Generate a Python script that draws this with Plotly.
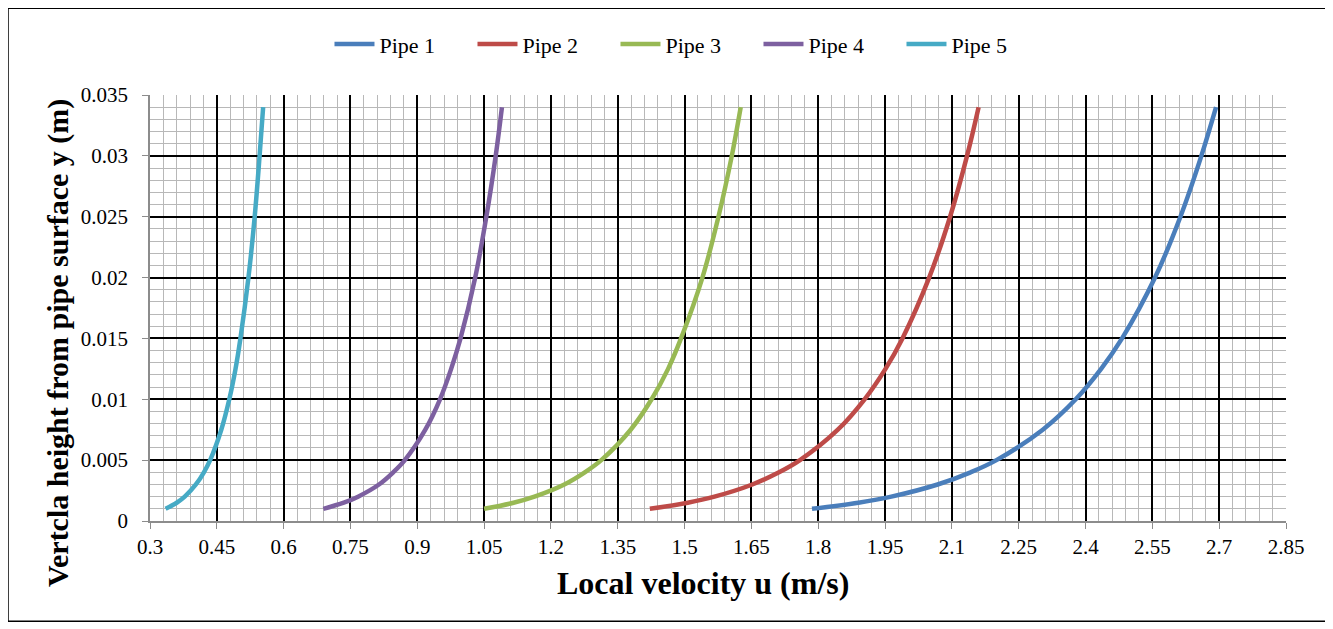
import plotly.graph_objects as go

heights = [0.001, 0.0015, 0.002, 0.003, 0.004, 0.005, 0.0075, 0.010,
           0.0125, 0.015, 0.020, 0.025, 0.030, 0.034]

# Local velocity u (m/s) at those heights
pipe1_u = [1.786, 1.890, 1.964, 2.068, 2.142, 2.200, 2.304, 2.378, 2.435, 2.482, 2.556, 2.613, 2.660, 2.693]
pipe2_u = [1.422, 1.507, 1.567, 1.652, 1.712, 1.759, 1.844, 1.904, 1.951, 1.989, 2.049, 2.096, 2.134, 2.160]
pipe3_u = [1.050, 1.116, 1.163, 1.230, 1.276, 1.313, 1.379, 1.426, 1.463, 1.492, 1.540, 1.576, 1.606, 1.626]
pipe4_u = [0.689, 0.735, 0.767, 0.814, 0.846, 0.872, 0.918, 0.951, 0.976, 0.997, 1.030, 1.055, 1.076, 1.090]
pipe5_u = [0.335, 0.360, 0.378, 0.403, 0.421, 0.435, 0.460, 0.478, 0.492, 0.503, 0.521, 0.535, 0.546, 0.554]

series_names = ["Pipe 1", "Pipe 2", "Pipe 3", "Pipe 4", "Pipe 5"]
series_u = [pipe1_u, pipe2_u, pipe3_u, pipe4_u, pipe5_u]
colors = ["#4A7EBB", "#BE4B48", "#98B954", "#7D60A0", "#46AAC5"]

x_ticks = [0.3, 0.45, 0.6, 0.75, 0.9, 1.05, 1.2, 1.35, 1.5, 1.65, 1.8, 1.95,
           2.1, 2.25, 2.4, 2.55, 2.7, 2.85]
y_ticks = [0, 0.005, 0.01, 0.015, 0.02, 0.025, 0.03, 0.035]

x_title = "Local velocity u (m/s)"
y_title = "Vertcla height from pipe surface y (m)"

fig = go.Figure()
for name, u, c in zip(series_names, series_u, colors):
    fig.add_trace(go.Scatter(
        x=u, y=heights, mode="lines", name=name,
        line=dict(color=c, width=4.5, shape="spline", smoothing=1.0),
    ))

serif = "Liberation Serif, Times New Roman, serif"
tick_font = dict(family=serif, size=21, color="black")

# page is offset by the 8px body margin; plot area targets x 149.5-1286, y 95-521 on the page
fig.update_layout(
    width=1333, height=629,
    margin=dict(l=141.5, r=55, t=87, b=116),
    paper_bgcolor="white", plot_bgcolor="white",
    showlegend=True,
    legend=dict(
        orientation="h", x=0.158, xanchor="left", y=1.119, yanchor="middle",
        font=dict(family=serif, size=22, color="black"),
        itemwidth=40, entrywidth=88, entrywidthmode="pixels",
        bgcolor="rgba(0,0,0,0)",
    ),
    xaxis=dict(
        range=[0.3, 2.85], tickmode="array", tickvals=x_ticks,
        ticktext=[f"{v:g}" for v in x_ticks],
        showgrid=True, gridcolor="black", gridwidth=2,
        minor=dict(dtick=0.03, tick0=0.3, showgrid=True, gridcolor="#b8b8b8", gridwidth=1.3),
        showline=True, linecolor="#8c8c8c", linewidth=1.5,
        ticks="outside", ticklen=6, tickcolor="#8c8c8c", tickwidth=1.3,
        tickfont=tick_font, zeroline=False,
    ),
    yaxis=dict(
        range=[0, 0.035], tickmode="array", tickvals=y_ticks,
        ticktext=[f"{v:g}" for v in y_ticks],
        showgrid=True, gridcolor="black", gridwidth=2,
        minor=dict(dtick=0.001, tick0=0, showgrid=True, gridcolor="#b8b8b8", gridwidth=1.3),
        showline=True, linecolor="#8c8c8c", linewidth=1.5,
        ticks="outside", ticklen=6, tickcolor="#8c8c8c", tickwidth=1.3,
        tickfont=tick_font, zeroline=False, ticklabelstandoff=10,
    ),
    annotations=[
        dict(text=f"<b>{x_title}</b>", xref="paper", yref="paper",
             x=0.487, y=-0.146, xanchor="center", yanchor="middle",
             showarrow=False, font=dict(family=serif, size=32, color="black")),
        dict(text=f"<b>{y_title}</b>", xref="paper", yref="paper",
             x=-0.081, y=0.418, xanchor="center", yanchor="middle",
             textangle=-90, showarrow=False, font=dict(family=serif, size=30, color="black")),
    ],
    shapes=[
        dict(type="rect", xref="paper", yref="paper",
             x0=-0.125, x1=1.0352, y0=-0.2354, y1=1.2035,
             line=dict(color="black", width=1.5), fillcolor="rgba(0,0,0,0)", layer="below"),
    ],
)

fig.write_html("out.html")
